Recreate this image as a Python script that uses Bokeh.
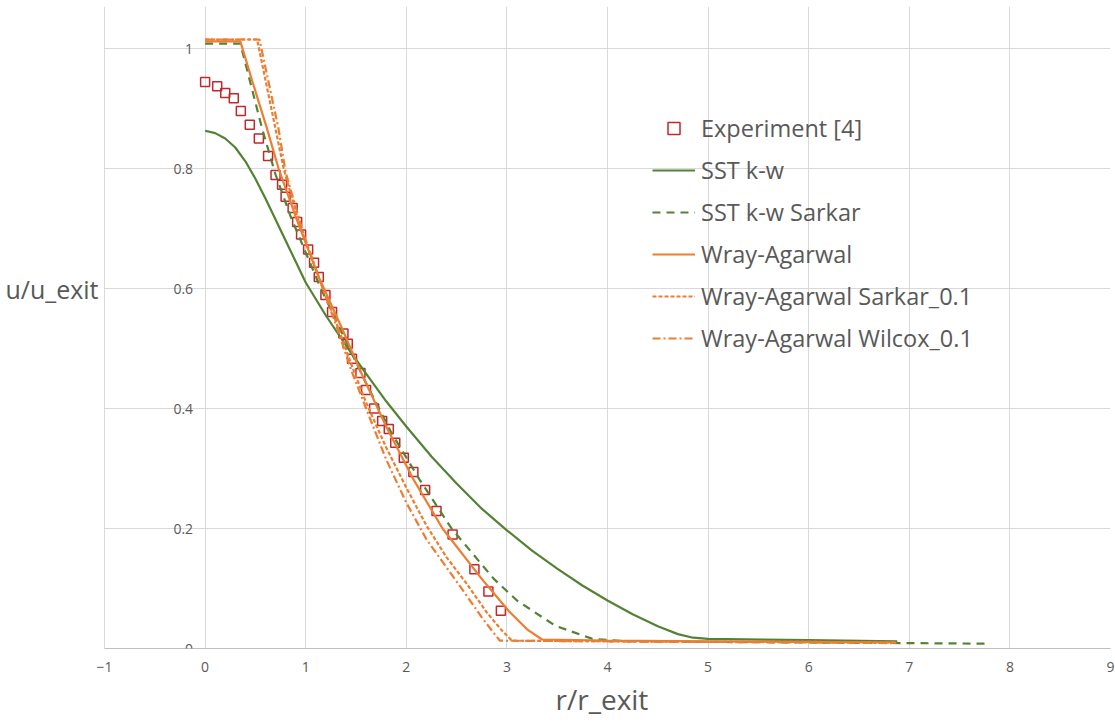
from bokeh.plotting import figure
from bokeh.models import FixedTicker, Legend, LegendItem, LabelSet, ColumnDataSource, Title
from bokeh.core.properties import value
from bokeh.embed import file_html
from bokeh.resources import INLINE

# ---------------- data ----------------
x_ticks = [-1, 0, 1, 2, 3, 4, 5, 6, 7, 8, 9]
y_ticks = [0, 0.2, 0.4, 0.6, 0.8, 1.0]
y_tick_labels = ["0", "0.2", "0.4", "0.6", "0.8", "1"]
x_title = "r/r_exit"
y_title = "u/u_exit"

exp_x = [0.0, 0.12, 0.20, 0.285, 0.355, 0.444, 0.534, 0.626, 0.70, 0.765, 0.80, 0.87,
         0.915, 0.954, 1.024, 1.083, 1.13, 1.196, 1.262, 1.375, 1.418, 1.46, 1.544, 1.60,
         1.68, 1.76, 1.826, 1.89, 1.975, 2.07, 2.187, 2.30, 2.46, 2.677, 2.816, 2.94]
exp_y = [0.944, 0.937, 0.926, 0.917, 0.896, 0.873, 0.85, 0.821, 0.789, 0.773, 0.753, 0.734,
         0.711, 0.69, 0.665, 0.643, 0.619, 0.589, 0.561, 0.525, 0.508, 0.483, 0.459, 0.431,
         0.40, 0.379, 0.366, 0.343, 0.318, 0.294, 0.264, 0.229, 0.19, 0.132, 0.095, 0.063]

sst_x = [0, 0.1, 0.2, 0.3, 0.4, 0.5, 0.6, 0.7, 0.8, 0.9, 1.0, 1.2, 1.4, 1.6, 1.8, 2.0,
         2.25, 2.5, 2.75, 3.0, 3.25, 3.5, 3.75, 4.0, 4.25, 4.5, 4.7, 4.85, 5.0, 6.0, 6.88]
sst_y = [0.863, 0.859, 0.85, 0.835, 0.812, 0.783, 0.75, 0.715, 0.68, 0.645, 0.61, 0.555,
         0.505, 0.458, 0.412, 0.37, 0.32, 0.275, 0.233, 0.197, 0.163, 0.133, 0.105, 0.08,
         0.057, 0.037, 0.024, 0.018, 0.016, 0.014, 0.012]

sst_sarkar_x = [0, 0.35, 0.45, 0.567, 0.70, 0.85, 1.0, 1.15, 1.35, 1.58, 1.85, 2.13, 2.45,
                2.87, 3.1, 3.48, 3.85, 4.2, 5.0, 6.0, 7.0, 7.8]
sst_sarkar_y = [1.008, 1.008, 0.943, 0.866, 0.79, 0.72, 0.66, 0.60, 0.53, 0.449, 0.36,
                0.282, 0.20, 0.116, 0.08, 0.038, 0.016, 0.012, 0.011, 0.01, 0.009, 0.008]

wa_x = [0, 0.35, 0.47, 0.616, 0.73, 0.9, 1.13, 1.37, 1.55, 1.8, 2.07, 2.36, 2.75, 3.02,
        3.2, 3.35, 4.0, 5.0, 6.0, 6.87]
wa_y = [1.012, 1.012, 0.945, 0.866, 0.80, 0.72, 0.619, 0.53, 0.46, 0.37, 0.282, 0.20,
        0.116, 0.062, 0.032, 0.015, 0.013, 0.012, 0.011, 0.01]

was_x = [0, 0.517, 0.70, 0.78, 0.95, 1.17, 1.3, 1.45, 1.6, 1.8, 2.0, 2.2, 2.4, 2.6, 2.8,
         2.95, 3.05, 4.0, 5.0, 6.0, 6.87]
was_y = [1.015, 1.015, 0.866, 0.80, 0.70, 0.60, 0.545, 0.475, 0.41, 0.335, 0.268, 0.205,
         0.152, 0.108, 0.06, 0.03, 0.013, 0.012, 0.011, 0.011, 0.01]

waw_x = [0, 0.54, 0.73, 0.80, 0.98, 1.17, 1.3, 1.45, 1.6, 1.8, 2.0, 2.2, 2.4, 2.6, 2.75,
         2.85, 2.93, 4.0, 5.0, 6.0, 6.87]
waw_y = [1.015, 1.015, 0.866, 0.794, 0.69, 0.60, 0.54, 0.465, 0.40, 0.315, 0.243, 0.182,
         0.135, 0.088, 0.052, 0.03, 0.013, 0.012, 0.011, 0.01, 0.009]

# ---------------- styles ----------------
GREEN = "#548235"
ORANGE = "#ED7D31"
RED = "#C0282D"
TEXT = "#595959"
GRID = "#D9D9D9"
FONT = "Open Sans"

# frame starts at the page's left edge, x = -1 sits 104 px in
p = figure(width=1115, height=724, x_range=(-2.034, 9), y_range=(0, 1.07),
           output_backend="svg", toolbar_location=None,
           min_border_left=0, min_border_right=5, min_border_top=6, min_border_bottom=76)
p.outline_line_color = None
p.background_fill_color = "white"
p.border_fill_color = "white"

p.xgrid.ticker = FixedTicker(ticks=x_ticks)
p.xgrid.grid_line_color = GRID
p.ygrid.visible = False
# horizontal grid lines spanning only the x_ticks extent
p.segment(x0=[x_ticks[0]] * len(y_ticks), x1=[x_ticks[-1]] * len(y_ticks),
          y0=y_ticks, y1=y_ticks, line_color=GRID, line_width=1)

p.yaxis.visible = False
xa = p.xaxis[0]
xa.ticker = FixedTicker(ticks=x_ticks)
xa.bounds = (x_ticks[0], x_ticks[-1])
xa.minor_tick_line_color = None
xa.major_tick_line_color = None
xa.major_tick_out = 0
xa.major_tick_in = 0
xa.axis_line_color = "#BFBFBF"
xa.major_label_text_font = FONT
xa.major_label_text_font_size = "14px"
xa.major_label_text_color = TEXT
xa.major_label_standoff = 13

# x-axis title, under the middle of the x = -1 .. 9 span
p.add_layout(Title(text=x_title, align="left", offset=555, standoff=6,
                   text_font=FONT, text_font_size="28px", text_font_style="normal",
                   text_color=TEXT), "below")

# y tick labels placed beside x = 0
ysrc = ColumnDataSource(dict(x=[0] * len(y_ticks), y=y_ticks, t=y_tick_labels))
p.add_layout(LabelSet(x="x", y="y", text="t", source=ysrc, x_offset=-12,
                      text_align="right", text_baseline="middle",
                      text_font=value(FONT), text_font_size="14px", text_color=TEXT))

# horizontal y-axis title to the left of x = -1
tsrc = ColumnDataSource(dict(x=[x_ticks[0]], y=[0.6], t=[y_title]))
p.add_layout(LabelSet(x="x", y="y", text="t", source=tsrc, x_offset=-6,
                      text_align="right", text_baseline="middle",
                      text_font=value(FONT), text_font_size="25px", text_color=TEXT))

r_exp = p.scatter(exp_x, exp_y, marker="square", size=9, fill_color=None,
                  line_color=RED, line_width=1.5)
r_sst = p.line(sst_x, sst_y, line_color=GREEN, line_width=2.2)
r_sss = p.line(sst_sarkar_x, sst_sarkar_y, line_color=GREEN, line_width=2.2, line_dash="8 6")
r_wa = p.line(wa_x, wa_y, line_color=ORANGE, line_width=2.2)
r_was = p.line(was_x, was_y, line_color=ORANGE, line_width=2.2, line_dash="4 2")
r_waw = p.line(waw_x, waw_y, line_color=ORANGE, line_width=2.2, line_dash="8 3 2 3")

legend = Legend(items=[
    LegendItem(label="Experiment [4]", renderers=[r_exp]),
    LegendItem(label="SST k-w", renderers=[r_sst]),
    LegendItem(label="SST k-w Sarkar", renderers=[r_sss]),
    LegendItem(label="Wray-Agarwal", renderers=[r_wa]),
    LegendItem(label="Wray-Agarwal Sarkar_0.1", renderers=[r_was]),
    LegendItem(label="Wray-Agarwal Wilcox_0.1", renderers=[r_waw]),
], location=(652, 294))
legend.label_text_font = FONT
legend.label_text_font_size = "23.5px"
legend.label_text_color = TEXT
legend.glyph_width = 43
legend.glyph_height = 30
legend.label_height = 30
legend.spacing = 10
legend.padding = 0
legend.margin = 0
legend.label_standoff = 6
legend.background_fill_alpha = 0
legend.border_line_alpha = 0
p.add_layout(legend)

open("out.html", "w").write(file_html(p, INLINE))
